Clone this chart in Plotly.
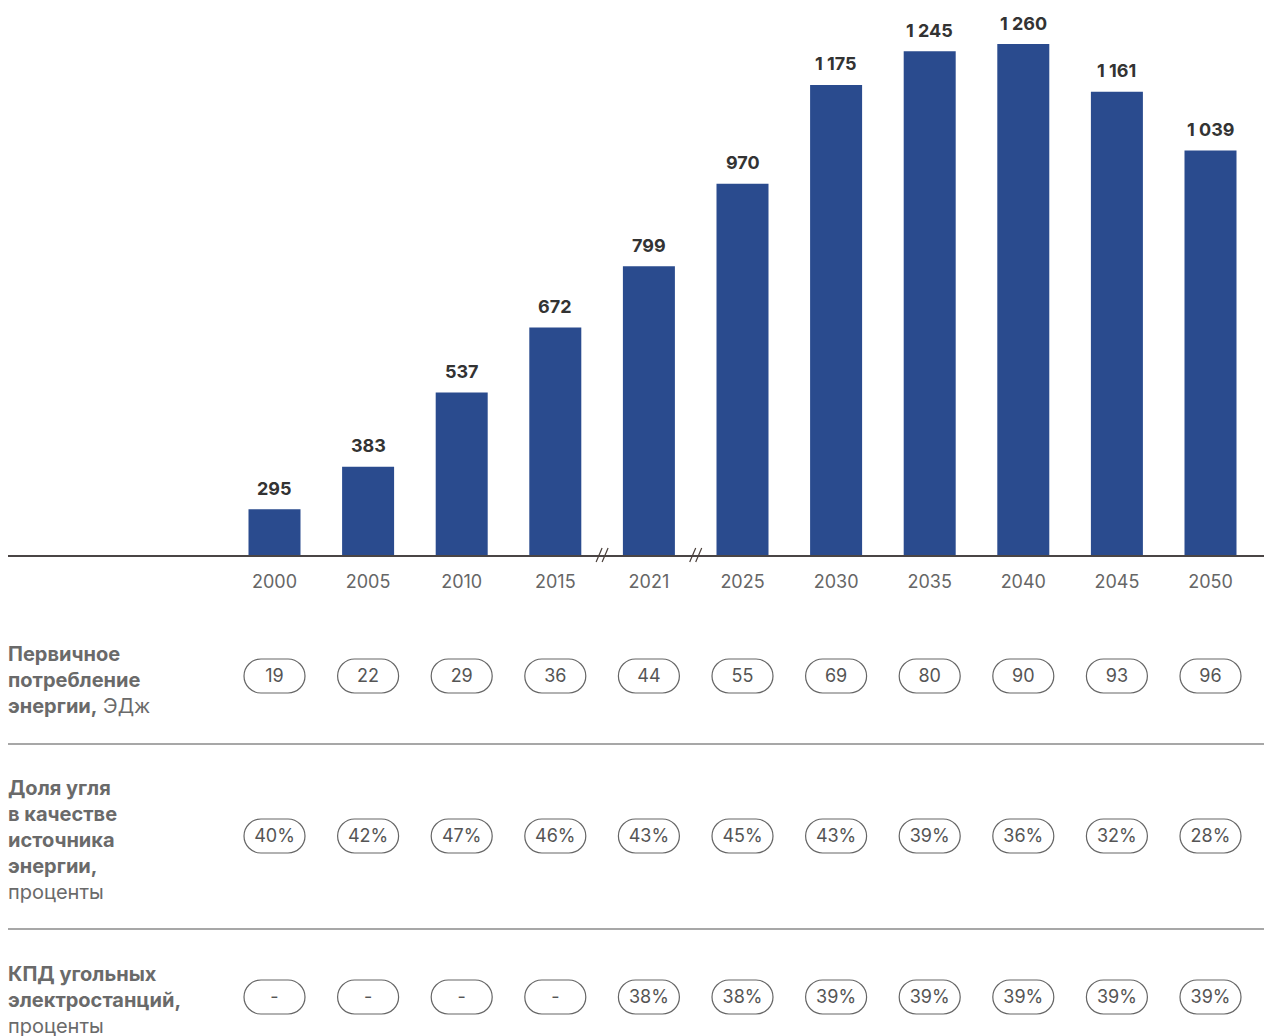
import plotly.graph_objects as go

years = ["2000", "2005", "2010", "2015", "2021", "2025", "2030", "2035", "2040", "2045", "2050"]
coal_consumption = [295, 383, 537, 672, 799, 970, 1175, 1245, 1260, 1161, 1039]
primary_energy = ["19", "22", "29", "36", "44", "55", "69", "80", "90", "93", "96"]
coal_share = ["40%", "42%", "47%", "46%", "43%", "45%", "43%", "39%", "36%", "32%", "28%"]
plant_efficiency = ["-", "-", "-", "-", "38%", "38%", "39%", "39%", "39%", "39%", "39%"]

row_labels = [
    "<b>Первичное<br>потребление<br>энергии,</b> ЭДж",
    "<b>Доля угля<br>в качестве<br>источника<br>энергии,</b><br>проценты",
    "<b>КПД угольных<br>электростанций,</b><br>проценты",
]
row_values = [primary_energy, coal_share, plant_efficiency]

W, H = 1272, 1036
OFF = 8             # page body margin
BASE = 555 - OFF    # figure pixel y of x-axis
PX_PER_UNIT = 93.6  # pixel spacing of categories
X0_PX = 274.5 - OFF # figure pixel x of first category
FONT = "Inter"
Y_MIN = 200
PX_PER_VAL = 511 / (1260 - Y_MIN)

x_idx = list(range(len(years)))
x_left = (0 - X0_PX) / PX_PER_UNIT
x_right = (W - X0_PX) / PX_PER_UNIT
y_top = Y_MIN + BASE / PX_PER_VAL

fig = go.Figure()
fig.add_trace(go.Bar(
    x=x_idx, y=coal_consumption, width=52 / PX_PER_UNIT,
    marker=dict(color="#2a4b8e", line=dict(width=0)),
    hoverinfo="skip",
))

annotations = []
for i, v in zip(x_idx, coal_consumption):
    annotations.append(dict(x=i, y=v, xref="x", yref="y", text=f"{v:,}".replace(",", " "),
                            showarrow=False, yanchor="middle", yshift=21,
                            font=dict(family=FONT, size=18, color="#333333", weight="bold")))

row_y = [676 - OFF, 836 - OFF, 997 - OFF]
label_y = [680 - OFF, 840 - OFF, 1000 - OFF]
for vals, yc in zip(row_values, row_y):
    fig.add_trace(go.Scatter(
        x=x_idx, y=[yc + 1] * len(x_idx), yaxis="y2", mode="text", text=vals,
        textfont=dict(family=FONT, size=18, color="#555555"),
        hoverinfo="skip", cliponaxis=False,
    ))

shapes = []
k = 0.5523
hw = 30.5 / PX_PER_UNIT
rx = 17 / PX_PER_UNIT
r = 17
for yc in row_y:
    yt, yb = yc - r, yc + r
    for i in x_idx:
        xl, xr = i - hw, i + hw
        p = (f"M {xl+rx},{yt} L {xr-rx},{yt} "
             f"C {xr-rx+k*rx},{yt} {xr},{yc-k*r} {xr},{yc} "
             f"C {xr},{yc+k*r} {xr-rx+k*rx},{yb} {xr-rx},{yb} "
             f"L {xl+rx},{yb} "
             f"C {xl+rx-k*rx},{yb} {xl},{yc+k*r} {xl},{yc} "
             f"C {xl},{yc-k*r} {xl+rx-k*rx},{yt} {xl+rx},{yt} Z")
        shapes.append(dict(type="path", path=p, xref="x", yref="y2",
                           line=dict(color="#666666", width=1.2), fillcolor="rgba(0,0,0,0)"))

for ys in [744 - OFF, 929 - OFF]:
    shapes.append(dict(type="line", xref="paper", yref="y2", x0=0, x1=1, y0=ys, y1=ys,
                       line=dict(color="#8a8a8a", width=1.5)))

# axis break marks
for xb in [3.5, 4.5]:
    for off in [-3, 3]:
        xc = xb + off / PX_PER_UNIT
        shapes.append(dict(type="line", xref="x", yref="paper",
                           x0=xc - 3 / PX_PER_UNIT, x1=xc + 3 / PX_PER_UNIT,
                           y0=1 - (BASE + 7) / H, y1=1 - (BASE - 7) / H,
                           line=dict(color="#4a3f3a", width=1.2)))

for txt, yl in zip(row_labels, label_y):
    annotations.append(dict(text=txt, xref="paper", yref="y2", x=0, y=yl, xshift=-2,
                            xanchor="left", yanchor="middle", align="left", showarrow=False,
                            font=dict(family=FONT, size=20, color="#6a6a6a")))

fig.update_layout(
    width=W, height=H, margin=dict(l=0, r=0, t=0, b=0),
    paper_bgcolor="white", plot_bgcolor="white", showlegend=False,
    xaxis=dict(domain=[0, 1], range=[x_left, x_right], tickvals=x_idx, ticktext=years,
               showgrid=False, zeroline=False, showline=True, linecolor="#4a4545", linewidth=1.5,
               ticks="", ticklabelstandoff=10, anchor="y",
               tickfont=dict(family=FONT, size=18, color="#666666")),
    yaxis=dict(domain=[1 - BASE / H, 1], range=[Y_MIN, y_top], visible=False, anchor="x"),
    yaxis2=dict(domain=[0, 1 - BASE / H], range=[H, BASE], visible=False, anchor="x"),
    shapes=shapes, annotations=annotations,
)

fig.write_html("out.html")
